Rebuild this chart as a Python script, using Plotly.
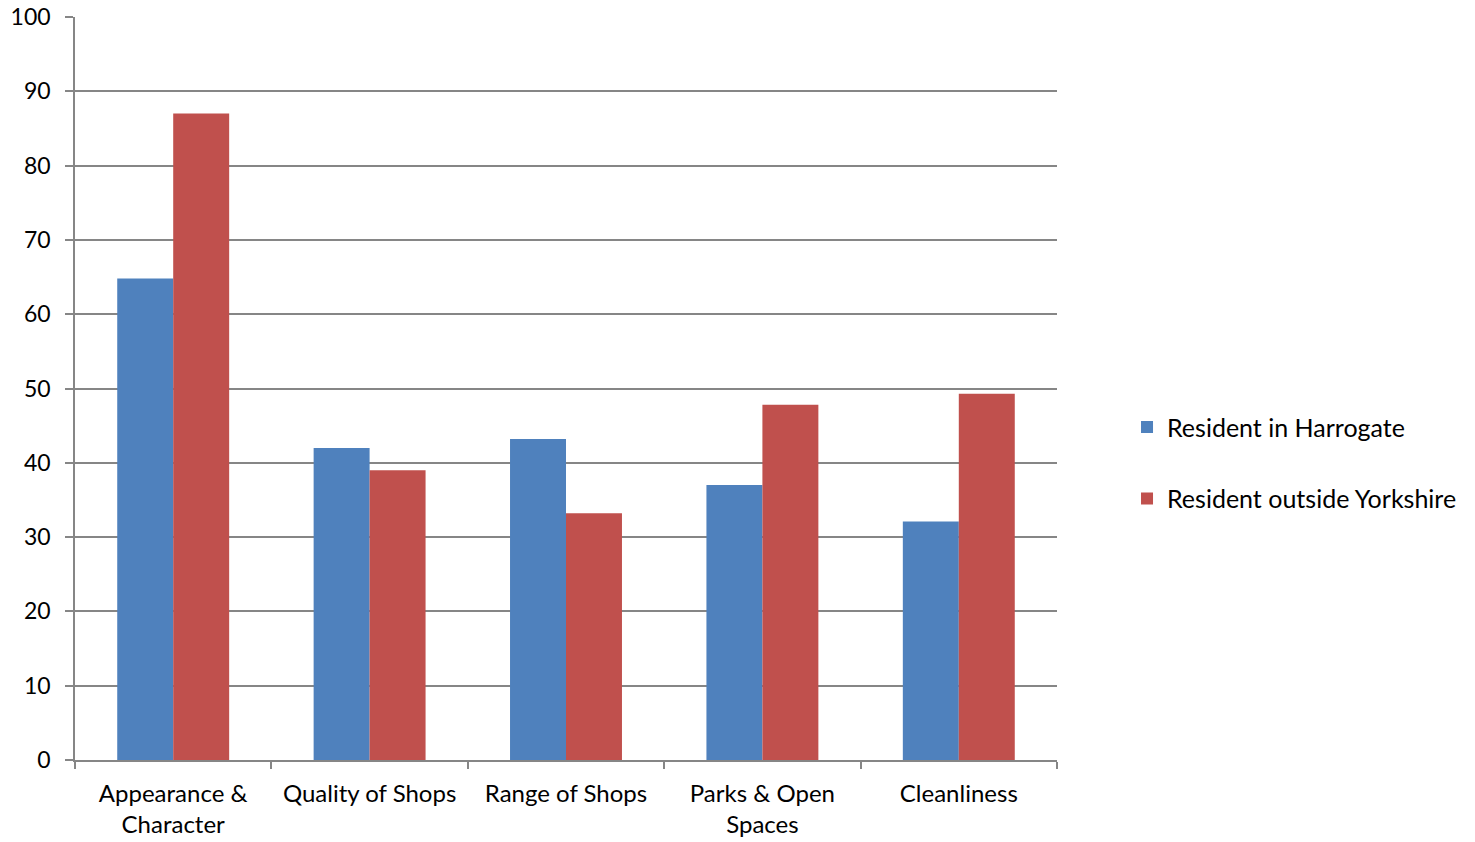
import plotly.graph_objects as go

categories = ["Appearance &<br>Character", "Quality of Shops", "Range of Shops", "Parks & Open<br>Spaces", "Cleanliness"]
harrogate = [64.8, 42.0, 43.2, 37.0, 32.1]
outside_yorkshire = [87.0, 39.0, 33.2, 47.8, 49.3]
y_ticks = [0, 10, 20, 30, 40, 50, 60, 70, 80, 90, 100]

FONT = "Lato"
fig = go.Figure()
fig.add_trace(go.Bar(x=categories, y=harrogate, name="Resident in Harrogate",
                     marker=dict(color="#4F81BD", line=dict(width=0)), legendgroup="a"))
fig.add_trace(go.Bar(x=categories, y=outside_yorkshire, name="Resident outside Yorkshire",
                     marker=dict(color="#C0504D", line=dict(width=0)), legendgroup="b"))

fig.update_layout(
    width=1475, height=842,
    margin=dict(l=75, r=418, t=17, b=82, pad=0),
    paper_bgcolor="white", plot_bgcolor="white",
    barmode="group", bargap=0.43, bargroupgap=0,
    font=dict(family=FONT, size=23, color="#000000"),
    legend=dict(x=1.0713, y=0.40, xanchor="left", yanchor="middle",
                font=dict(family=FONT, size=25), tracegroupgap=36,
                bgcolor="rgba(0,0,0,0)"),
    xaxis=dict(type="category", showline=True, linecolor="#868686", linewidth=1.5,
               ticks="outside", tickson="boundaries", ticklen=7, tickcolor="#868686",
               tickwidth=1.5, showgrid=False, tickfont=dict(size=24),
               automargin=False, ticklabelstandoff=11),
    yaxis=dict(range=[0, 100], tickvals=y_ticks, showline=True, linecolor="#868686",
               linewidth=1.5, ticks="outside", ticklen=8, tickcolor="#868686", tickwidth=1.5,
               showgrid=True, gridcolor="#868686", gridwidth=1.5, zeroline=False,
               tickfont=dict(size=23), automargin=False, ticklabelstandoff=10),
)
fig.write_html("out.html")
